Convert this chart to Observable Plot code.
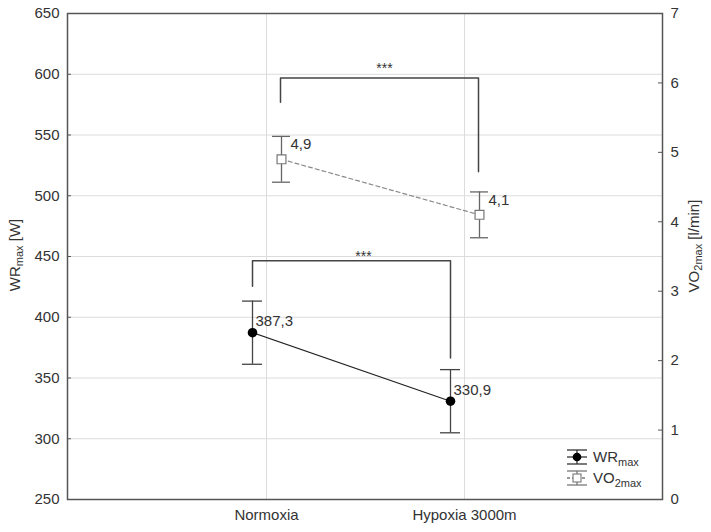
<!DOCTYPE html>
<html><head><meta charset="utf-8">
<script src="https://cdn.jsdelivr.net/npm/d3@7"></script>
<script src="https://cdn.jsdelivr.net/npm/@observablehq/plot@0.6"></script>
<style>
body{margin:0;background:#fff}
svg{font-family:"Liberation Sans",Arial,sans-serif}
</style>
</head><body><div id="chart"></div>
<script>
// ---- data ----
const conditions = ["Normoxia", "Hypoxia 3000m"];
const wrMean = [387.3, 330.9];
const wrSD = [26.0, 26.0];
const vo2Mean = [4.9, 4.1];
const vo2SD = [0.33, 0.33];
const wrTicks = [250, 300, 350, 400, 450, 500, 550, 600, 650];
const vo2Ticks = [0, 1, 2, 3, 4, 5, 6, 7];
// significance brackets: [left leg end, bar level, right leg end]
const wrBracket = [425.5, 446.5, 366.5];
const vo2Bracket = [5.72, 6.07, 4.72];
const sigLabel = "***";

// ---- layout ----
const W = 711, H = 532, mL = 67, mR = 49, mT = 13, mB = 33;
const plotW = W - mL - mR;
const v2w = d3.scaleLinear([0, 7], [250, 650]); // right axis -> left axis units
const comma = v => v.toFixed(1).replace(".", ",");

const wr = conditions.map((c, i) => ({c, m: wrMean[i], lo: wrMean[i] - wrSD[i], hi: wrMean[i] + wrSD[i], label: comma(wrMean[i])}));
const vo = conditions.map((c, i) => ({c, m: v2w(vo2Mean[i]), lo: v2w(vo2Mean[i] - vo2SD[i]), hi: v2w(vo2Mean[i] + vo2SD[i]), label: comma(vo2Mean[i])}));
const bracket = (b, map) => [
  {c: conditions[0], v: map(b[0])}, {c: conditions[0], v: map(b[1])},
  {c: conditions[1], v: map(b[1])}, {c: conditions[1], v: map(b[2])}
];
const id = d => d;

const plot = Plot.plot({
  width: W, height: H,
  marginLeft: mL, marginRight: mR, marginTop: mT, marginBottom: mB,
  style: {fontFamily: "Liberation Sans, Arial, sans-serif", fontSize: "15px", color: "#333", background: "#fff"},
  x: {type: "band", domain: conditions, paddingInner: 0.9, paddingOuter: 0.95, label: null},
  y: {domain: [250, 650], label: null},
  marks: [
    Plot.gridY(wrTicks, {stroke: "#dcdcdc", strokeOpacity: 1}),
    Plot.gridX({stroke: "#dcdcdc", strokeOpacity: 1}),
    Plot.axisY(wrTicks, {anchor: "left", tickSize: 0, tickPadding: 8, label: null}),
    Plot.axisY(vo2Ticks.map(v2w), {anchor: "right", tickSize: 0, tickPadding: 8, label: null,
      tickFormat: d => String(Math.round(v2w.invert(d)))}),
    Plot.axisX({tickSize: 0, tickPadding: 10, label: null}),
    Plot.tickY(wrTicks, {y: id, insetRight: plotW - 4, stroke: "#555"}),
    Plot.tickY(vo2Ticks.map(v2w), {y: id, insetLeft: plotW - 4, stroke: "#555"}),
    // brackets
    Plot.line(bracket(wrBracket, id), {x: "c", y: "v", dx: -14, stroke: "#444", strokeWidth: 1.5}),
    Plot.line(bracket(vo2Bracket, v2w), {x: "c", y: "v", dx: 14, stroke: "#444", strokeWidth: 1.5}),
    Plot.text([sigLabel], {x: () => conditions[0], y: () => wrBracket[1], dx: 97, dy: -4, fontSize: 14, fill: "#333"}),
    Plot.text([sigLabel], {x: () => conditions[0], y: () => v2w(vo2Bracket[1]), dx: 118, dy: -10, fontSize: 14, fill: "#333"}),
    // VO2 series
    Plot.line(vo, {x: "c", y: "m", dx: 15, stroke: "#8a8a8a", strokeWidth: 1.2, strokeDasharray: "4,3"}),
    Plot.ruleX(vo, {x: "c", y1: "lo", y2: "hi", dx: 15, stroke: "#666", strokeWidth: 1.3}),
    Plot.tickY(vo, {x: "c", y: "hi", dx: 15, insetLeft: 1, insetRight: 1, stroke: "#666", strokeWidth: 1.3}),
    Plot.tickY(vo, {x: "c", y: "lo", dx: 15, insetLeft: 1, insetRight: 1, stroke: "#666", strokeWidth: 1.3}),
    Plot.dot(vo, {x: "c", y: "m", dx: 15, symbol: "square", r: 5, fill: "#fff", stroke: "#777", strokeWidth: 1.2}),
    Plot.text(vo, {x: "c", y: "m", text: "label", dx: 24, dy: -15, textAnchor: "start", fill: "#333"}),
    // WR series
    Plot.line(wr, {x: "c", y: "m", dx: -14, stroke: "#222", strokeWidth: 1.2}),
    Plot.ruleX(wr, {x: "c", y1: "lo", y2: "hi", dx: -14, stroke: "#444", strokeWidth: 1.3}),
    Plot.tickY(wr, {x: "c", y: "hi", dx: -14, stroke: "#444", strokeWidth: 1.3}),
    Plot.tickY(wr, {x: "c", y: "lo", dx: -14, stroke: "#444", strokeWidth: 1.3}),
    Plot.dot(wr, {x: "c", y: "m", dx: -14, r: 4.8, fill: "#000"}),
    Plot.text(wr, {x: "c", y: "m", text: "label", dx: -11, dy: -11, textAnchor: "start", fill: "#333"}),
    Plot.frame({stroke: "#555", strokeWidth: 1.5})
  ]
});
document.getElementById("chart").append(plot);

// ---- axis titles with subscripts ----
const svg = d3.select(plot);
function subLabel(g, main, sub, rest) {
  g.append("tspan").text(main);
  g.append("tspan").attr("font-size", 11).attr("dy", 4).text(sub);
  if (rest) g.append("tspan").attr("dy", -4).text(rest);
}
const yl = svg.append("text").attr("transform", "translate(16,255) rotate(-90)")
  .attr("text-anchor", "middle").attr("dominant-baseline", "middle").attr("font-size", 15).attr("fill", "#333");
subLabel(yl, "WR", "max", " [W]");
const yr = svg.append("text").attr("transform", "translate(695,246) rotate(-90)")
  .attr("text-anchor", "middle").attr("dominant-baseline", "middle").attr("font-size", 15).attr("fill", "#333");
subLabel(yr, "VO", "2max", " [l/min]");

// ---- legend ----
const leg = svg.append("g").attr("transform", "translate(577,0)");
const entries = [
  {name: "WR", sub: "max", y: 457, stroke: "#333", dash: null, sym: "dot"},
  {name: "VO", sub: "2max", y: 478, stroke: "#777", dash: "3,2", sym: "square"}
];
for (const e of entries) {
  const g = leg.append("g").attr("transform", `translate(0,${e.y})`);
  g.append("line").attr("x1", -10).attr("x2", 10).attr("y1", -7).attr("y2", -7).attr("stroke", e.stroke).attr("stroke-width", 1.3);
  g.append("line").attr("x1", -10).attr("x2", 10).attr("y1", 7).attr("y2", 7).attr("stroke", e.stroke).attr("stroke-width", 1.3);
  g.append("line").attr("x1", 0).attr("x2", 0).attr("y1", -7).attr("y2", 7).attr("stroke", e.stroke).attr("stroke-width", 1.3);
  g.append("line").attr("x1", -10).attr("x2", 10).attr("y1", 0).attr("y2", 0).attr("stroke", e.stroke).attr("stroke-width", 1.3).attr("stroke-dasharray", e.dash);
  if (e.sym === "dot") g.append("circle").attr("r", 4.3).attr("fill", "#000");
  else g.append("rect").attr("x", -4).attr("y", -4).attr("width", 8).attr("height", 8).attr("fill", "#fff").attr("stroke", "#777").attr("stroke-width", 1.1);
  const t = g.append("text").attr("x", 16).attr("dy", "0.32em").attr("text-anchor", "start").attr("font-size", 15).attr("fill", "#333");
  subLabel(t, e.name, e.sub, null);
}
</script>
</body></html>
